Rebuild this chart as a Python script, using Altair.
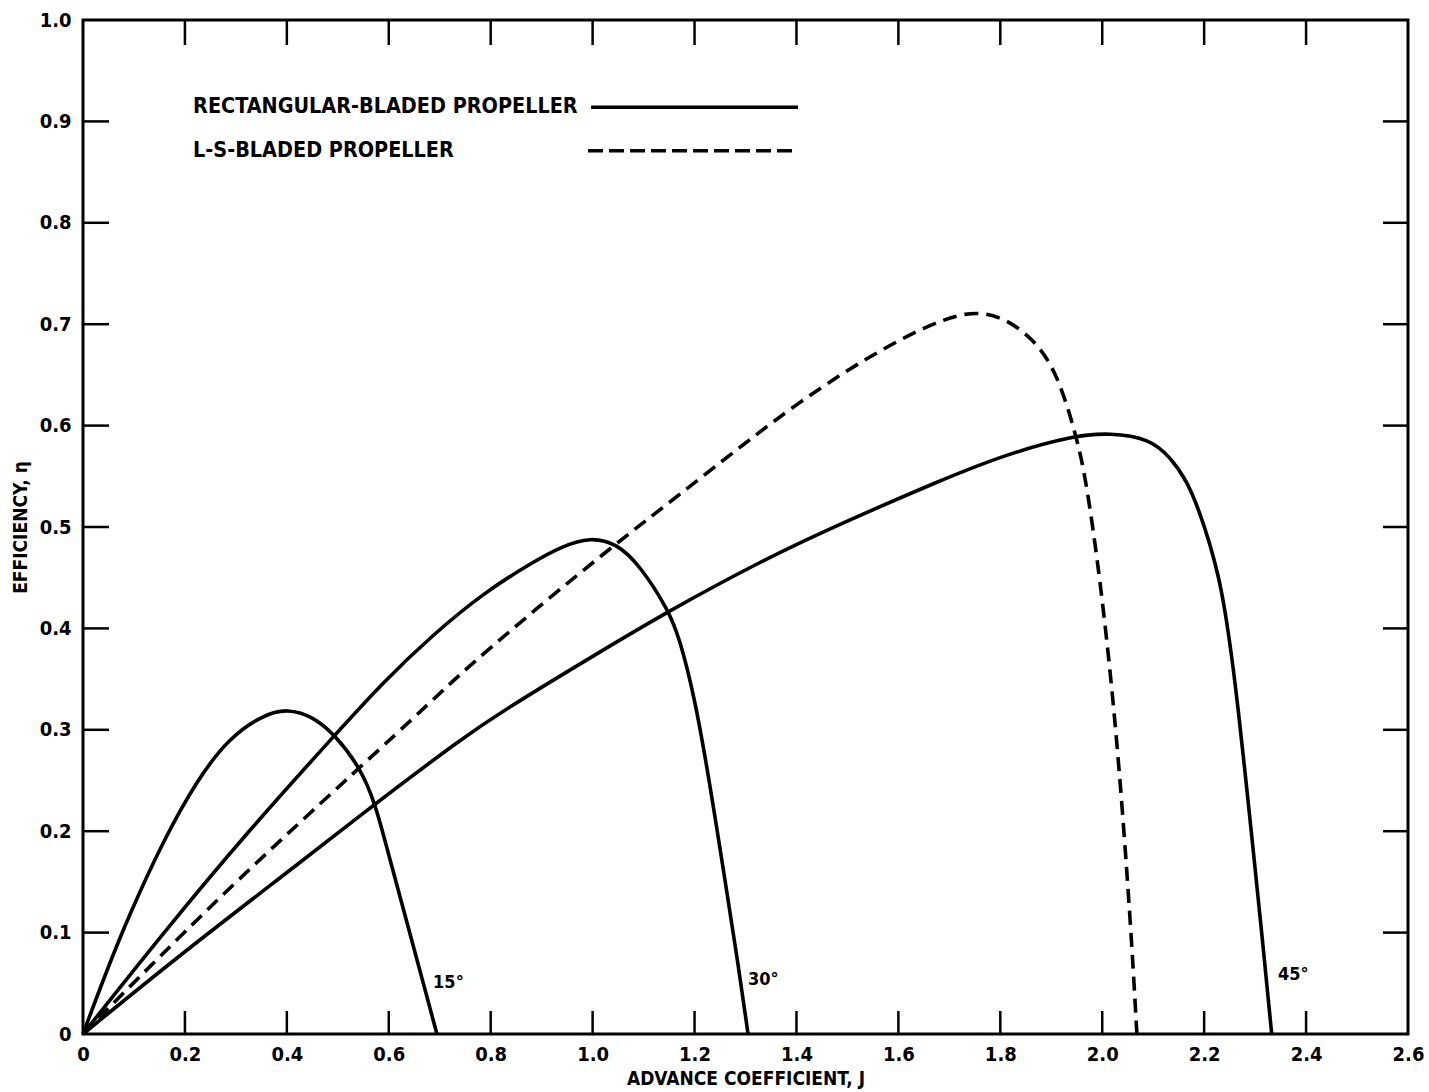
import altair as alt
import pandas as pd

# ---- data ----
rect15_J = [0, 0.046, 0.092, 0.158, 0.223, 0.288, 0.354, 0.40, 0.452, 0.4945, 0.5436, 0.573, 0.597, 0.622, 0.6547, 0.6945]
rect15_eta = [0, 0.062, 0.119, 0.191, 0.250, 0.293, 0.3146, 0.321, 0.313, 0.295, 0.263, 0.228, 0.182, 0.1355, 0.0745, 0]

rect30_J = [0, 0.158, 0.324, 0.4945, 0.589, 0.687, 0.786, 0.884, 0.94, 0.995, 1.047, 1.093, 1.149, 1.17, 1.20, 1.23, 1.26, 1.285, 1.305]
rect30_eta = [0, 0.100, 0.200, 0.295, 0.347, 0.394, 0.435, 0.466, 0.481, 0.490, 0.484, 0.462, 0.418, 0.391, 0.333, 0.247, 0.151, 0.071, 0]

rect45_J = [0, 0.2, 0.426, 0.573, 0.74, 0.818, 1.0145, 1.149, 1.3285, 1.4855, 1.682, 1.8125, 1.943, 2.015, 2.094, 2.133, 2.166, 2.192, 2.211, 2.228, 2.241, 2.254, 2.267, 2.285, 2.30, 2.317, 2.3325]
rect45_eta = [0, 0.082, 0.169, 0.227, 0.290, 0.317, 0.377, 0.417, 0.466, 0.503, 0.546, 0.572, 0.590, 0.593, 0.587, 0.569, 0.546, 0.5135, 0.484, 0.452, 0.418, 0.373, 0.320, 0.236, 0.163, 0.080, 0]

ls_J = [0, 0.092, 0.3, 0.5436, 0.69, 0.753, 0.9, 1.047, 1.158, 1.302, 1.4, 1.4855, 1.564, 1.65, 1.734, 1.80, 1.865, 1.911, 1.95, 1.9695, 1.996, 2.022, 2.0415, 2.058, 2.068]
ls_eta = [0, 0.047, 0.151, 0.263, 0.331, 0.361, 0.424, 0.484, 0.527, 0.584, 0.621, 0.650, 0.674, 0.697, 0.713, 0.709, 0.686, 0.653, 0.589, 0.543, 0.448, 0.329, 0.210, 0.090, 0]

angle_labels = ["15°", "30°", "45°"]
angle_label_J = [0.687, 1.305, 2.345]
angle_label_eta = [0.050, 0.053, 0.058]

legend_labels = ["RECTANGULAR-BLADED PROPELLER", "L-S-BLADED PROPELLER"]
legend_text_J = [0.216, 0.216]
legend_eta = [0.914, 0.871]
legend_line_J1 = [0.997, 0.991]
legend_line_J2 = [1.403, 1.403]
legend_dashed = [False, True]

x_tick_values = [0, 0.2, 0.4, 0.6, 0.8, 1.0, 1.2, 1.4, 1.6, 1.8, 2.0, 2.2, 2.4, 2.6]
y_tick_values = [0, 0.1, 0.2, 0.3, 0.4, 0.5, 0.6, 0.7, 0.8, 0.9, 1.0]
x_inner_ticks = x_tick_values[1:-1]
y_inner_ticks = y_tick_values[1:-1]

W, H = 1325, 1014
FONT = "DejaVu Sans Condensed"

rect = pd.concat([
    pd.DataFrame({"J": rect15_J, "eta": rect15_eta, "angle": "15"}),
    pd.DataFrame({"J": rect30_J, "eta": rect30_eta, "angle": "30"}),
    pd.DataFrame({"J": rect45_J, "eta": rect45_eta, "angle": "45"}),
], ignore_index=True)
rect["order"] = range(len(rect))
ls = pd.DataFrame({"J": ls_J, "eta": ls_eta})
ls["order"] = range(len(ls))

xscale = alt.Scale(domain=[0, 2.6], nice=False, zero=False)
yscale = alt.Scale(domain=[0, 1.0], nice=False, zero=False)
label_expr = "datum.value == 0 ? '0' : format(datum.value, '.1f')"

x_enc = alt.X("J:Q", scale=xscale, axis=alt.Axis(
    values=x_tick_values, labelExpr=label_expr, ticks=False, domain=False, grid=False,
    labelFont=FONT, labelFontWeight="bold", labelFontSize=20, labelColor="black",
    labelPadding=10, labelFlush=False,
    title="ADVANCE COEFFICIENT, J", titleFont=FONT, titleFontWeight="bold",
    titleFontSize=19, titleColor="black", titlePadding=5))
y_enc = alt.Y("eta:Q", scale=yscale, axis=alt.Axis(
    values=y_tick_values, labelExpr=label_expr, ticks=False, domain=False, grid=False,
    labelFont=FONT, labelFontWeight="bold", labelFontSize=20, labelColor="black",
    labelPadding=12, labelFlush=False,
    title="EFFICIENCY, η", titleFont=FONT, titleFontWeight="bold",
    titleFontSize=19, titleColor="black", titlePadding=9))

rect_lines = alt.Chart(rect).mark_line(color="black", strokeWidth=3.6, interpolate="basis").encode(
    x=x_enc, y=y_enc, detail="angle:N", order="order:Q")
ls_line = alt.Chart(ls).mark_line(color="black", strokeWidth=3.6, strokeDash=[14, 8], interpolate="basis").encode(
    x="J:Q", y="eta:Q", order="order:Q")

xt = pd.DataFrame({"J": x_inner_ticks})
yt = pd.DataFrame({"eta": y_inner_ticks})
bottom_ticks = alt.Chart(xt).mark_rule(color="black", strokeWidth=2.5).encode(
    x="J:Q", y=alt.value(H), y2=alt.value(H - 23))
top_ticks = alt.Chart(xt).mark_rule(color="black", strokeWidth=2.5).encode(
    x="J:Q", y=alt.value(0), y2=alt.value(25))
left_ticks = alt.Chart(yt).mark_rule(color="black", strokeWidth=2.5).encode(
    y="eta:Q", x=alt.value(0), x2=alt.value(26))
right_ticks = alt.Chart(yt).mark_rule(color="black", strokeWidth=2.5).encode(
    y="eta:Q", x=alt.value(W), x2=alt.value(W - 25))

ang = pd.DataFrame({"label": angle_labels, "J": angle_label_J, "eta": angle_label_eta})
angle_text = alt.Chart(ang).mark_text(align="left", baseline="middle", font=FONT,
                                      fontWeight="bold", fontSize=18, color="black").encode(
    x="J:Q", y="eta:Q", text="label:N")

leg = pd.DataFrame({"label": legend_labels, "tx": legend_text_J, "eta": legend_eta,
                    "x1": legend_line_J1, "x2": legend_line_J2, "dashed": legend_dashed})
leg_text = alt.Chart(leg).mark_text(align="left", baseline="middle", font=FONT,
                                    fontWeight="bold", fontSize=21.4, color="black").encode(
    x="tx:Q", y="eta:Q", text="label:N")
leg_solid = alt.Chart(leg[~leg["dashed"]]).mark_rule(color="black", strokeWidth=3.5).encode(
    x="x1:Q", x2="x2:Q", y="eta:Q")
leg_dash = alt.Chart(leg[leg["dashed"]]).mark_rule(color="black", strokeWidth=3.5, strokeDash=[15, 6]).encode(
    x="x1:Q", x2="x2:Q", y="eta:Q")

chart = alt.layer(
    rect_lines, ls_line, bottom_ticks, top_ticks, left_ticks, right_ticks,
    angle_text, leg_text, leg_solid, leg_dash
).properties(
    width=W, height=H,
    autosize=alt.AutoSizeParams(type="none"),
    padding={"left": 83, "top": 20, "right": 21, "bottom": 58},
    background="white",
).configure_view(stroke="black", strokeWidth=3)

chart.save("out.html", embed_options={"renderer": "svg", "actions": False})
